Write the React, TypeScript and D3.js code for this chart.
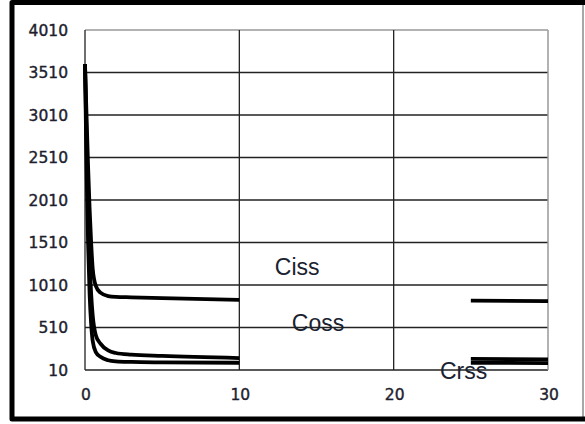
import React from "react";
import * as d3 from "d3";

const xValues: number[] = [0, 0.1, 0.2, 0.3, 0.4, 0.5, 0.7, 1, 1.5, 2, 3, 5, 10, 15, 25, 30];
const cissValues: (number | null)[] = [3610, 3000, 2400, 1900, 1500, 1200, 1000, 920, 880, 870, 865, 855, 835, null, 825, 820];
const cossValues: (number | null)[] = [3610, 2700, 1900, 1300, 900, 650, 420, 320, 240, 210, 190, 175, 150, null, 140, 135];
const crssValues: (number | null)[] = [3610, 2400, 1500, 900, 550, 350, 220, 165, 125, 112, 105, 100, 95, null, 95, 92];
const yTicks: number[] = [10, 510, 1010, 1510, 2010, 2510, 3010, 3510, 4010];
const xTicks: number[] = [0, 10, 20, 30];
const seriesLabels = [
  { name: "Ciss", x: 12.3, y: 1220 },
  { name: "Coss", x: 13.4, y: 560 },
  { name: "Crss", x: 23.0, y: 0 },
];

const W = 585;
const H = 424;

export default function App() {
  const x = d3.scaleLinear().domain([0, 30]).range([85, 548]);
  const y = d3.scaleLinear().domain([10, 4010]).range([370, 30]);

  type P = { x: number; v: number | null };
  const mk = (vals: (number | null)[]): P[] => xValues.map((xv, i) => ({ x: xv, v: vals[i] }));
  const line = d3
    .line<P>()
    .defined((d) => d.v !== null)
    .x((d) => x(d.x))
    .y((d) => y(d.v as number))
    .curve(d3.curveMonotoneX);

  const series = [cissValues, cossValues, crssValues];

  return (
    <svg
      width={W}
      height={H}
      style={{ position: "absolute", left: 0, top: 0, background: "#fff" }}
    >
      {/* outer frame */}
      <line x1={583} y1={4} x2={583} y2={417} stroke="#8a8a8a" strokeWidth={1.5} />
      <path
        d={`M${W},2.5 L12,2.5 L12,419 L${W},419`}
        fill="none"
        stroke="#000"
        strokeWidth={5}
        strokeLinejoin="round"
      />

      {/* horizontal gridlines */}
      {yTicks.map((t) => (
        <line
          key={"h" + t}
          x1={x(0)}
          x2={x(30)}
          y1={y(t)}
          y2={y(t)}
          stroke={t === 4010 ? "#999" : "#222"}
          strokeWidth={1.3}
        />
      ))}
      {/* vertical gridlines */}
      {xTicks.map((t) => (
        <line
          key={"v" + t}
          x1={x(t)}
          x2={x(t)}
          y1={y(4010)}
          y2={y(10)}
          stroke={t === 30 ? "#999" : "#222"}
          strokeWidth={t === 30 ? 1.5 : 1.3}
        />
      ))}

      {/* y tick labels */}
      {yTicks.map((t) => (
        <text
          key={"yl" + t}
          x={68}
          y={y(t) + 1}
          textAnchor="end"
          dominantBaseline="middle"
          fontFamily="DejaVu Sans"
          fontSize={15.5}
          fill="#1e1e2e"
          stroke="#1e1e2e"
          strokeWidth={0.4}
        >
          {t}
        </text>
      ))}
      {/* x tick labels */}
      {xTicks.map((t) => (
        <text
          key={"xl" + t}
          x={x(t) + 1}
          y={400}
          textAnchor="middle"
          fontFamily="DejaVu Sans"
          fontSize={15.5}
          fill="#1e1e2e"
          stroke="#1e1e2e"
          strokeWidth={0.4}
        >
          {t}
        </text>
      ))}

      {/* curves */}
      {series.map((s, i) => (
        <path
          key={"s" + i}
          d={line(mk(s)) || ""}
          fill="none"
          stroke="#000"
          strokeWidth={3.8}
          strokeLinejoin="round"
        />
      ))}

      {/* series labels */}
      {seriesLabels.map((l) => (
        <text
          key={l.name}
          x={x(l.x)}
          y={y(l.y) + 8}
          fontFamily="Liberation Sans"
          fontSize={23}
          fill="#1a2230"
        >
          {l.name}
        </text>
      ))}
    </svg>
  );
}
